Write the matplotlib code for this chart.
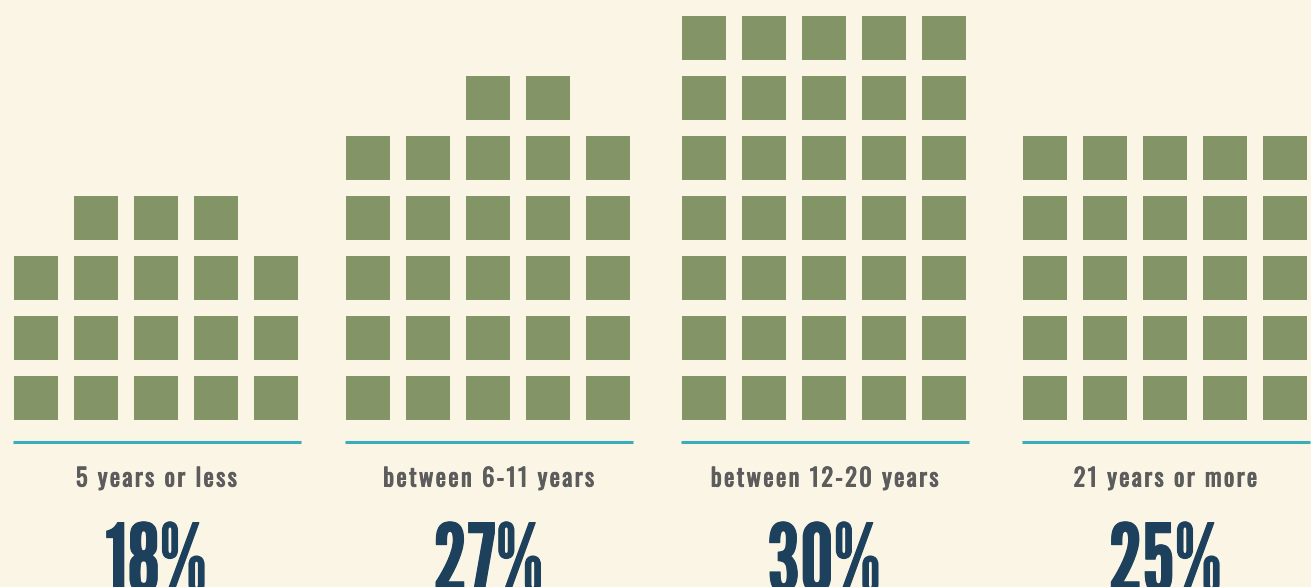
import matplotlib
matplotlib.use("Agg")
import matplotlib.pyplot as plt
from matplotlib.patches import Rectangle
from matplotlib import font_manager
import matplotlib.patheffects as pe

categories = ["5 years or less", "between 6-11 years", "between 12-20 years", "21 years or more"]
square_counts = [18, 27, 35, 25]
percent_labels = ["18%", "27%", "30%", "25%"]

W, H = 1311, 587
BG = "#faf5e4"
GREEN = "#839566"
TEAL = "#3aacbc"
GRAY = "#5c5c5c"
NAVY = "#1d405c"

names = {f.name for f in font_manager.fontManager.ttflist}
def pick(cands):
    return next((n for n in cands if n in names), "DejaVu Sans")
LABEL_FONT = pick(["Oswald", "Antonio", "DejaVu Sans"])
PCT_FONT = pick(["League Gothic", "Antonio", "Oswald", "DejaVu Sans"])

def tracked(s, sp="\u200a"):
    return sp.join(s)

fig = plt.figure(figsize=(W / 100, H / 100), dpi=100, facecolor=BG)
ax = fig.add_axes([0, 0, 1, 1])
ax.set_xlim(0, W)
ax.set_ylim(H, 0)
ax.axis("off")
ax.set_facecolor(BG)

group_x0 = [14, 346, 682, 1023]
cols = 5
pitch = 60
size = 44
bottom_top = 376

for gi, (n, x0) in enumerate(zip(square_counts, group_x0)):
    full_rows = n // cols
    rem = n % cols
    for r in range(full_rows):
        for c in range(cols):
            ax.add_patch(Rectangle((x0 + c * pitch, bottom_top - r * pitch), size, size,
                                   facecolor=GREEN, edgecolor="none"))
    if rem:
        start = (cols - rem + 1) // 2
        for c in range(start, start + rem):
            ax.add_patch(Rectangle((x0 + c * pitch, bottom_top - full_rows * pitch), size, size,
                                   facecolor=GREEN, edgecolor="none"))
    ax.plot([x0 - 1, x0 + 287], [442, 442], color=TEAL, lw=2.2, solid_capstyle="butt")
    cx = x0 + (cols - 1) * pitch / 2 + size / 2
    ax.text(cx, 479, tracked(categories[gi]), ha="center", va="center", color=GRAY,
            fontsize=17.5, family=[LABEL_FONT, "DejaVu Sans"],
            path_effects=[pe.withStroke(linewidth=0.7, foreground=GRAY)])
    ax.text(cx, 522, percent_labels[gi], ha="center", va="top", color=NAVY,
            fontsize=68, family=[PCT_FONT, "DejaVu Sans"],
            path_effects=[pe.withStroke(linewidth=0.8, foreground=NAVY)])

fig.savefig("out.png", dpi=100, facecolor=BG)
